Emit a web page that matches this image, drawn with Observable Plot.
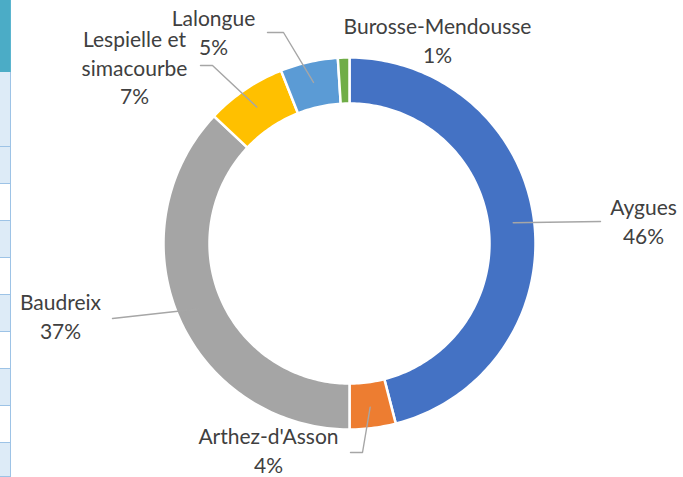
<!DOCTYPE html>
<html><head><meta charset="utf-8">
<script src="https://cdn.jsdelivr.net/npm/d3@7"></script>
<script src="https://cdn.jsdelivr.net/npm/@observablehq/plot@0.6"></script>
<style>
html,body{margin:0;padding:0;background:#fff;}
#wrap{position:relative;width:683px;height:477px;overflow:hidden;}
#strip{position:absolute;left:0;top:0;width:12px;height:477px;z-index:2;}
#strip div{position:absolute;left:0;width:11px;box-sizing:border-box;border-right:1px solid #9DC3E6;}
#chart{position:absolute;left:0;top:0;z-index:1;}
</style></head><body>
<div id="wrap"><div id="strip"></div><div id="chart"></div></div>
<script>
// ---- data ----
const names = ["Aygues", "Arthez-d'Asson", "Baudreix", "Lespielle et simacourbe", "Lalongue", "Burosse-Mendousse"];
const labelNames = ["Aygues", "Arthez-d'Asson", "Baudreix", "Lespielle et\nsimacourbe", "Lalongue", "Burosse-Mendousse"];
const values = [46, 4, 37, 7, 5, 1];
const colors = ["#4472C4", "#ED7D31", "#A5A5A5", "#FFC000", "#5B9BD5", "#70AD47"];

// ---- layout ----
const cx = 349, cy = 243, rOuter = 186, rInner = 140, rLeader = 165;
const labelPos = [[643, 220], [268, 449], [60, 315], [134, 66], [213, 31], [437, 39]];
const leaderEnds = [[[600, 221]], [[362, 452], [350, 452]], [[112, 318]], [[212, 65], [200, 65]], [[283, 32], [267, 32]], null];

// spreadsheet strip at the left edge
const stripRows = [[0, 72, "#4BACC6"], [72, 147, "#DDEBF7"], [147, 184, "#DDEBF7"], [184, 221, "#FFFFFF"], [221, 258, "#DDEBF7"], [258, 295, "#FFFFFF"], [295, 332, "#DDEBF7"], [332, 369, "#FFFFFF"], [369, 406, "#DDEBF7"], [406, 443, "#FFFFFF"], [443, 477, "#DDEBF7"]];
const strip = document.getElementById("strip");
stripRows.forEach(([a, b, c], i) => {
  const d = document.createElement("div");
  d.style.top = a + "px"; d.style.height = (b - a) + "px"; d.style.background = c;
  if (i > 0) d.style.borderBottom = "1px solid #9DC3E6";
  if (i === 0) d.style.borderRight = "1px solid #5BB5CF";
  strip.appendChild(d);
});

const total = d3.sum(values);
const pie = d3.pie().sort(null).startAngle(0).endAngle(2 * Math.PI)(values);
const pt = (a, r) => ({x: cx + r * Math.sin(a), y: cy - r * Math.cos(a)});

const slicePts = [];
pie.forEach((p, i) => {
  const n = Math.max(4, Math.ceil((p.endAngle - p.startAngle) / (Math.PI / 180)));
  for (let k = 0; k <= n; k++) {
    const a = p.startAngle + (p.endAngle - p.startAngle) * k / n;
    slicePts.push({name: names[i], ...pt(a, rOuter)});
  }
  for (let k = n; k >= 0; k--) {
    const a = p.startAngle + (p.endAngle - p.startAngle) * k / n;
    slicePts.push({name: names[i], ...pt(a, rInner)});
  }
});

const leaderPts = [];
pie.forEach((p, i) => {
  if (!leaderEnds[i]) return;
  const mid = (p.startAngle + p.endAngle) / 2;
  leaderPts.push({name: names[i], ...pt(mid, rLeader)});
  leaderEnds[i].forEach(([x, y]) => leaderPts.push({name: names[i], x, y}));
});

const labels = names.map((n, i) => ({
  name: n,
  x: labelPos[i][0], y: labelPos[i][1],
  text: labelNames[i] + "\n" + Math.round(values[i] / total * 100) + "%"
}));

const chart = Plot.plot({
  width: 683, height: 477, margin: 0,
  x: {domain: [0, 683], range: [0, 683], axis: null},
  y: {domain: [0, 477], range: [0, 477], axis: null},
  color: {domain: names, range: colors},
  style: {background: "transparent", overflow: "visible"},
  marks: [
    Plot.line(slicePts, {x: "x", y: "y", z: "name", fill: "name", stroke: "white", strokeWidth: 2.5, curve: "linear-closed"}),
    Plot.line(leaderPts, {x: "x", y: "y", z: "name", stroke: "#A6A6A6", strokeWidth: 1.4}),
    Plot.text(labels, {x: "x", y: "y", text: "text", fontSize: 21, fontFamily: "Lato", fill: "#404040", lineHeight: 1.36, textAnchor: "middle", lineAnchor: "middle"})
  ]
});
document.getElementById("chart").appendChild(chart);
</script>
</body></html>
